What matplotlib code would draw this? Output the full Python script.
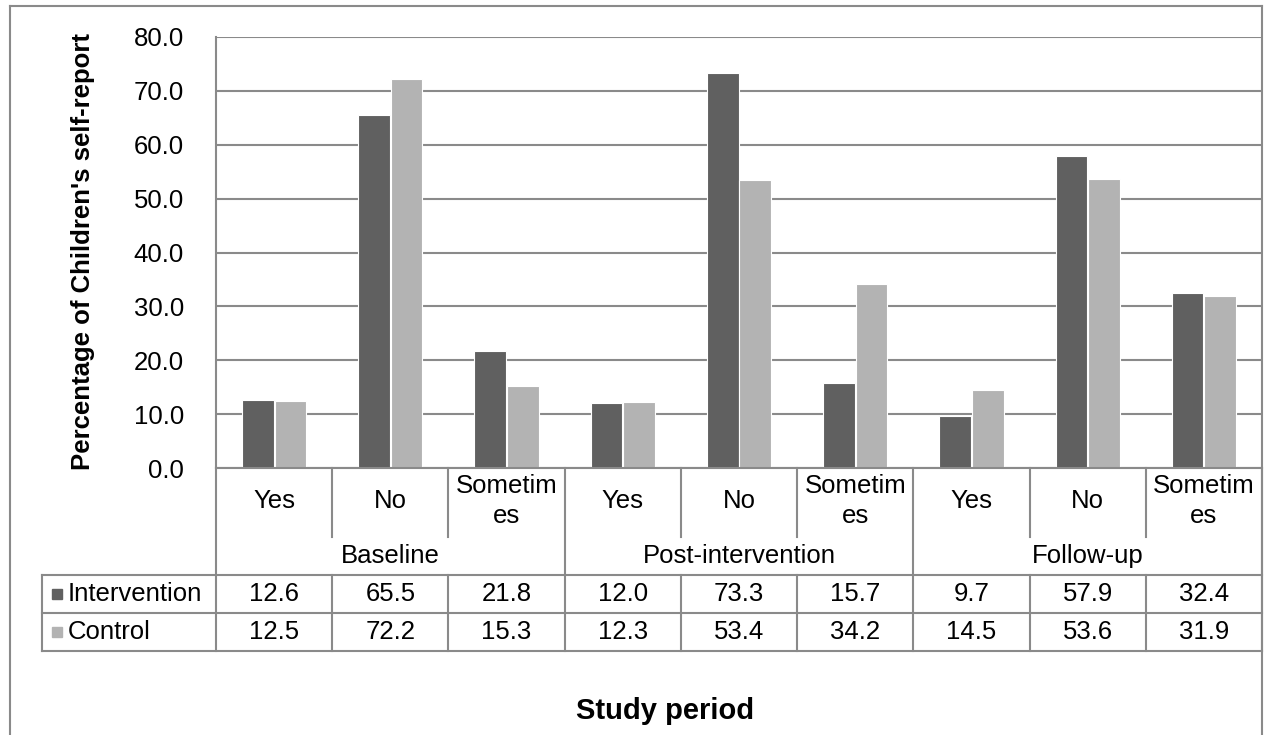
import matplotlib
matplotlib.use("Agg")
import matplotlib.pyplot as plt
from matplotlib.lines import Line2D
import numpy as np

plt.rcParams['font.family'] = ['Liberation Sans', 'DejaVu Sans']

periods = ["Baseline", "Post-intervention", "Follow-up"]
responses = ["Yes", "No", "Sometim\nes"]
intervention = [12.6, 65.5, 21.8, 12.0, 73.3, 15.7, 9.7, 57.9, 32.4]
control = [12.5, 72.2, 15.3, 12.3, 53.4, 34.2, 14.5, 53.6, 31.9]
series_names = ["Intervention", "Control"]
yticks = [0, 10, 20, 30, 40, 50, 60, 70, 80]

DARK = "#606060"
LIGHT = "#b3b3b3"
LINE = "#8a8a8a"
FS = 18.5

W, H = 1269, 735
fig = plt.figure(figsize=(W / 100, H / 100), dpi=100)

# plot area in pixel coordinates
left, right, top, bottom = 216, 1262, 37, 468
ax = fig.add_axes([left / W, 1 - bottom / H, (right - left) / W, (bottom - top) / H])

n = len(intervention)
x = np.arange(n) + 0.5
bw = 0.272
ax.bar(x - 0.14, intervention, bw, color=DARK, edgecolor="white", linewidth=0.8, zorder=3)
ax.bar(x + 0.14, control, bw, color=LIGHT, edgecolor="white", linewidth=0.8, zorder=3)

ax.set_xlim(0, n)
ax.set_ylim(0, 80)
ax.set_yticks(yticks)
ax.set_yticklabels([f"{v:.1f}" for v in yticks], fontsize=FS)
ax.tick_params(axis="y", length=0, pad=23)
ax.set_xticks([])
for s in ["top", "right", "bottom"]:
    ax.spines[s].set_visible(False)
ax.spines["left"].set_color(LINE)
ax.spines["left"].set_linewidth(1.5)
ax.yaxis.grid(True, color=LINE, linewidth=1.5, zorder=0)
ax.set_axisbelow(True)


def hline(x1, x2, y):
    fig.add_artist(Line2D([x1 / W, x2 / W], [1 - y / H, 1 - y / H],
                          transform=fig.transFigure, color=LINE, linewidth=1.5))


def vline(xp, y1, y2):
    fig.add_artist(Line2D([xp / W, xp / W], [1 - y1 / H, 1 - y2 / H],
                          transform=fig.transFigure, color=LINE, linewidth=1.5))


def ftext(xp, yp, s, **kw):
    fig.text(xp / W, 1 - yp / H, s, ha="center", va="center", **kw)


# y axis title
ftext(83, 251, "Percentage of Children's self-report", fontsize=FS,
      fontweight="bold", rotation=90)

# outer chart frame
hline(10, right, 6)
vline(10, 6, H + 2)
vline(right, 6, H + 2)

# category / table grid
cat_bottom, row1, row2, tab_bottom = 537, 575, 613, 651
tab_left = 42
colw = (right - left) / n
cols = [left + k * colw for k in range(n + 1)]

hline(left, right, bottom)
hline(tab_left, right, row1)
hline(tab_left, right, row2)
hline(tab_left, right, tab_bottom)
vline(tab_left, row1, tab_bottom)
for k, xc in enumerate(cols):
    if k % 3 == 0:
        vline(xc, bottom, tab_bottom)
    else:
        vline(xc, bottom, cat_bottom)
        vline(xc, row1, tab_bottom)

# category labels
for i in range(n):
    xc = left + (i + 0.5) * colw
    ftext(xc, 501, responses[i % 3], fontsize=FS, linespacing=1.35)

# period labels
for g, p in enumerate(periods):
    xc = left + (g * 3 + 1.5) * colw
    ftext(xc, 556, p, fontsize=FS)

# data table rows with legend keys
for r, (name, vals, col) in enumerate(zip(series_names, [intervention, control], [DARK, LIGHT])):
    yc = (row1 + row2) / 2 if r == 0 else (row2 + tab_bottom) / 2
    fig.add_artist(plt.Rectangle((52 / W, 1 - (yc + 5) / H), 10 / W, 10 / H,
                                 transform=fig.transFigure, color=col))
    fig.text(68 / W, 1 - yc / H, name, ha="left", va="center", fontsize=FS)
    for i, v in enumerate(vals):
        ftext(left + (i + 0.5) * colw, yc, f"{v:.1f}", fontsize=FS)

ftext(665, 711, "Study period", fontsize=21, fontweight="bold")

fig.savefig("out.png", dpi=100, facecolor="white")
